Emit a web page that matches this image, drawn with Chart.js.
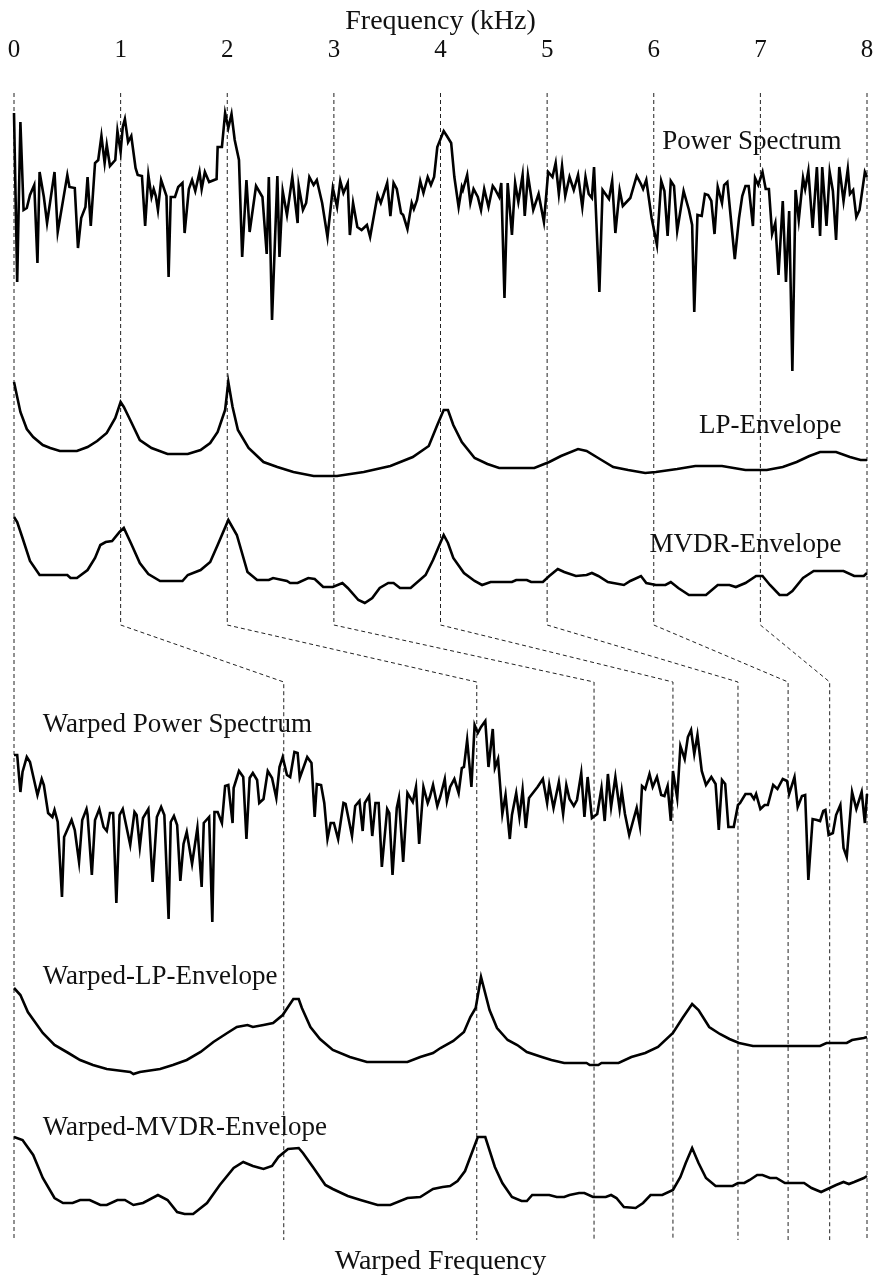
<!DOCTYPE html>
<html>
<head>
<meta charset="utf-8">
<title>Warped spectra</title>
<script src="https://cdn.jsdelivr.net/npm/chart.js@4.4.1/dist/chart.umd.min.js"></script>
<style>
  html, body { margin: 0; padding: 0; background: #fff; }
  canvas { display: block; }
</style>
</head>
<body>
<canvas id="spectra" width="873" height="1286"></canvas>
<script>
// frequency axis (kHz)
const freqTicks = [0, 1, 2, 3, 4, 5, 6, 7, 8];
// where each kHz mark lands after warping
const warpedTicks = [0, 2.53, 4.34, 5.44, 6.18, 6.79, 7.26, 7.65, 8];

// level of each trace relative to its own peak, [kHz, level]
const powerSpectrum = [[0.00,0],[0.03,-169],[0.06,-9],[0.09,-97],[0.12,-95],[0.15,-82],[0.19,-72],[0.22,-150],[0.24,-59],[0.28,-84],[0.31,-110],[0.38,-59],[0.41,-119],[0.50,-62],[0.52,-74],[0.57,-75],[0.60,-135],[0.63,-105],[0.67,-94],[0.69,-64],[0.72,-113],[0.76,-50],[0.79,-47],[0.82,-23],[0.85,-50],[0.87,-32],[0.90,-53],[0.95,-47],[0.97,-18],[1.00,-39],[1.02,-14],[1.04,-6],[1.07,-29],[1.10,-23],[1.14,-55],[1.16,-62],[1.20,-63],[1.23,-113],[1.26,-62],[1.29,-84],[1.31,-76],[1.33,-83],[1.35,-97],[1.38,-67],[1.43,-83],[1.45,-164],[1.47,-84],[1.51,-84],[1.54,-74],[1.58,-70],[1.60,-120],[1.64,-76],[1.67,-67],[1.70,-78],[1.74,-59],[1.76,-76],[1.79,-59],[1.83,-69],[1.90,-66],[1.91,-34],[1.95,-34],[1.98,0],[2.01,-15],[2.04,-1],[2.07,-27],[2.11,-47],[2.14,-144],[2.18,-67],[2.21,-119],[2.27,-73],[2.33,-84],[2.37,-141],[2.39,-64],[2.42,-207],[2.47,-63],[2.49,-144],[2.52,-78],[2.56,-102],[2.61,-64],[2.66,-110],[2.67,-73],[2.71,-97],[2.74,-90],[2.77,-64],[2.81,-72],[2.84,-67],[2.89,-90],[2.94,-124],[2.99,-75],[3.03,-94],[3.06,-68],[3.09,-80],[3.13,-70],[3.15,-122],[3.18,-90],[3.22,-114],[3.26,-117],[3.31,-112],[3.34,-124],[3.41,-82],[3.44,-90],[3.50,-70],[3.53,-103],[3.56,-70],[3.59,-76],[3.63,-100],[3.65,-102],[3.69,-116],[3.73,-90],[3.75,-96],[3.78,-87],[3.81,-68],[3.84,-80],[3.88,-64],[3.91,-72],[3.94,-64],[3.97,-34],[4.03,-18],[4.06,-23],[4.10,-30],[4.13,-64],[4.17,-94],[4.20,-74],[4.21,-77],[4.25,-62],[4.28,-90],[4.31,-76],[4.35,-84],[4.38,-97],[4.41,-76],[4.45,-94],[4.49,-73],[4.51,-76],[4.55,-84],[4.57,-70],[4.60,-185],[4.63,-70],[4.67,-122],[4.70,-70],[4.73,-89],[4.77,-62],[4.79,-103],[4.82,-62],[4.87,-97],[4.92,-81],[4.97,-109],[5.01,-59],[5.05,-64],[5.08,-50],[5.11,-81],[5.14,-53],[5.17,-83],[5.21,-64],[5.25,-77],[5.29,-62],[5.33,-94],[5.36,-64],[5.39,-81],[5.42,-85],[5.44,-54],[5.49,-179],[5.52,-77],[5.58,-86],[5.61,-68],[5.64,-120],[5.68,-77],[5.71,-93],[5.78,-85],[5.84,-63],[5.88,-71],[5.90,-76],[5.93,-67],[5.98,-105],[6.03,-132],[6.07,-68],[6.10,-78],[6.13,-123],[6.16,-68],[6.19,-73],[6.22,-118],[6.28,-78],[6.33,-97],[6.36,-112],[6.38,-199],[6.41,-102],[6.45,-103],[6.48,-81],[6.51,-82],[6.54,-88],[6.57,-121],[6.60,-74],[6.64,-90],[6.66,-72],[6.69,-69],[6.76,-146],[6.80,-105],[6.83,-83],[6.86,-73],[6.89,-73],[6.93,-113],[6.95,-65],[6.98,-72],[7.02,-59],[7.05,-76],[7.08,-76],[7.11,-121],[7.14,-110],[7.17,-162],[7.21,-88],[7.24,-169],[7.27,-98],[7.30,-258],[7.33,-77],[7.36,-107],[7.40,-65],[7.42,-76],[7.45,-58],[7.49,-115],[7.53,-54],[7.56,-123],[7.58,-54],[7.62,-113],[7.65,-59],[7.68,-78],[7.71,-127],[7.74,-54],[7.78,-88],[7.82,-56],[7.84,-81],[7.87,-77],[7.90,-104],[7.93,-97],[7.98,-59],[8.00,-64]];

const lpEnvelope = [[0.00,0],[0.03,-15],[0.06,-30],[0.12,-47],[0.18,-55],[0.27,-63],[0.34,-66],[0.43,-69],[0.59,-69],[0.69,-65],[0.78,-59],[0.87,-51],[0.95,-36],[1.00,-20],[1.03,-25],[1.09,-38],[1.18,-58],[1.29,-66],[1.44,-72],[1.63,-72],[1.75,-68],[1.84,-61],[1.91,-50],[1.98,-28],[2.01,0],[2.05,-25],[2.10,-48],[2.20,-66],[2.34,-80],[2.47,-85],[2.62,-90],[2.81,-94],[3.03,-94],[3.28,-90],[3.53,-84],[3.74,-75],[3.89,-64],[3.97,-43],[4.03,-28],[4.07,-28],[4.12,-43],[4.20,-60],[4.32,-76],[4.44,-82],[4.55,-86],[4.88,-86],[5.02,-80],[5.13,-74],[5.29,-67],[5.37,-69],[5.51,-78],[5.62,-85],[5.76,-88],[5.92,-91],[6.02,-90],[6.22,-87],[6.39,-84],[6.64,-84],[6.86,-88],[7.06,-88],[7.21,-85],[7.34,-80],[7.46,-74],[7.56,-70],[7.71,-70],[7.84,-75],[7.94,-78],[8.00,-78]];

const mvdrEnvelope = [[0.00,0],[0.03,-5],[0.08,-21],[0.15,-44],[0.24,-58],[0.50,-58],[0.53,-61],[0.59,-61],[0.69,-53],[0.76,-41],[0.81,-28],[0.86,-25],[0.92,-24],[0.99,-15],[1.03,-11],[1.10,-27],[1.18,-46],[1.26,-57],[1.37,-64],[1.58,-64],[1.63,-58],[1.75,-53],[1.84,-45],[1.91,-28],[2.01,-3],[2.09,-18],[2.19,-55],[2.28,-63],[2.39,-63],[2.43,-61],[2.56,-64],[2.59,-66],[2.66,-66],[2.76,-61],[2.82,-62],[2.90,-70],[2.99,-70],[3.08,-66],[3.13,-71],[3.23,-83],[3.29,-86],[3.36,-81],[3.43,-71],[3.51,-66],[3.56,-66],[3.62,-71],[3.72,-71],[3.86,-58],[3.93,-43],[4.03,-18],[4.07,-26],[4.12,-41],[4.22,-56],[4.32,-64],[4.39,-68],[4.47,-65],[4.67,-65],[4.71,-63],[4.81,-63],[4.85,-65],[4.96,-65],[5.02,-59],[5.10,-52],[5.16,-55],[5.27,-59],[5.37,-58],[5.42,-56],[5.48,-59],[5.57,-65],[5.72,-68],[5.78,-64],[5.88,-59],[5.93,-66],[6.02,-68],[6.11,-68],[6.16,-65],[6.23,-71],[6.33,-78],[6.49,-78],[6.60,-68],[6.71,-68],[6.77,-70],[6.86,-66],[6.96,-59],[7.02,-59],[7.09,-68],[7.18,-78],[7.25,-78],[7.30,-74],[7.40,-61],[7.50,-54],[7.78,-54],[7.88,-59],[7.97,-59],[8.00,-56]];

const warpedPowerSpectrum = [[0.00,-34],[0.03,-34],[0.06,-71],[0.08,-51],[0.12,-36],[0.15,-41],[0.22,-74],[0.26,-58],[0.28,-64],[0.32,-92],[0.36,-96],[0.38,-89],[0.41,-101],[0.45,-176],[0.47,-116],[0.54,-99],[0.57,-109],[0.61,-141],[0.64,-99],[0.68,-88],[0.69,-94],[0.73,-154],[0.76,-99],[0.80,-88],[0.84,-106],[0.87,-110],[0.90,-92],[0.93,-92],[0.96,-182],[0.99,-94],[1.02,-88],[1.09,-124],[1.13,-91],[1.15,-94],[1.18,-126],[1.21,-97],[1.26,-88],[1.30,-161],[1.34,-96],[1.38,-86],[1.41,-94],[1.45,-198],[1.47,-101],[1.50,-95],[1.53,-104],[1.56,-160],[1.59,-123],[1.62,-111],[1.67,-143],[1.72,-107],[1.76,-166],[1.78,-102],[1.83,-96],[1.86,-201],[1.88,-91],[1.91,-91],[1.95,-102],[1.98,-65],[2.01,-64],[2.05,-102],[2.06,-67],[2.11,-50],[2.15,-56],[2.18,-118],[2.21,-57],[2.24,-52],[2.28,-59],[2.30,-82],[2.34,-78],[2.38,-50],[2.42,-57],[2.46,-77],[2.49,-46],[2.52,-36],[2.56,-54],[2.59,-56],[2.63,-31],[2.66,-32],[2.68,-57],[2.75,-36],[2.79,-42],[2.82,-96],[2.84,-63],[2.88,-64],[2.91,-82],[2.94,-118],[2.97,-102],[3.00,-102],[3.04,-118],[3.09,-82],[3.11,-83],[3.17,-115],[3.20,-85],[3.24,-80],[3.27,-110],[3.29,-82],[3.33,-75],[3.36,-115],[3.39,-82],[3.42,-82],[3.45,-146],[3.50,-88],[3.52,-92],[3.55,-154],[3.59,-87],[3.61,-77],[3.65,-141],[3.69,-72],[3.74,-81],[3.77,-66],[3.80,-123],[3.84,-66],[3.88,-82],[3.90,-76],[3.93,-64],[3.97,-85],[4.00,-75],[4.04,-58],[4.06,-80],[4.09,-66],[4.13,-58],[4.17,-72],[4.20,-47],[4.22,-46],[4.25,-19],[4.29,-66],[4.32,-4],[4.35,-12],[4.38,-6],[4.42,0],[4.45,-46],[4.49,-8],[4.51,-47],[4.54,-38],[4.58,-93],[4.61,-74],[4.65,-118],[4.67,-94],[4.71,-72],[4.74,-96],[4.77,-69],[4.80,-107],[4.83,-77],[4.91,-66],[4.96,-58],[5.00,-82],[5.02,-64],[5.06,-87],[5.11,-61],[5.15,-93],[5.18,-64],[5.21,-78],[5.25,-85],[5.28,-79],[5.32,-52],[5.35,-96],[5.38,-56],[5.42,-97],[5.47,-93],[5.51,-67],[5.54,-100],[5.57,-53],[5.60,-86],[5.64,-56],[5.68,-88],[5.70,-70],[5.73,-93],[5.77,-114],[5.84,-87],[5.87,-105],[5.89,-65],[5.92,-68],[5.96,-53],[5.99,-66],[6.03,-56],[6.07,-74],[6.10,-75],[6.13,-65],[6.16,-100],[6.18,-50],[6.22,-77],[6.25,-25],[6.29,-38],[6.32,-16],[6.35,-9],[6.38,-33],[6.41,-14],[6.45,-50],[6.49,-64],[6.54,-56],[6.58,-63],[6.61,-109],[6.64,-59],[6.67,-63],[6.70,-106],[6.75,-106],[6.79,-84],[6.81,-82],[6.86,-73],[6.91,-73],[6.94,-78],[6.96,-73],[7.00,-88],[7.04,-84],[7.07,-84],[7.12,-64],[7.16,-68],[7.21,-58],[7.25,-60],[7.27,-73],[7.32,-56],[7.35,-86],[7.39,-75],[7.42,-74],[7.45,-159],[7.49,-98],[7.53,-99],[7.56,-100],[7.59,-90],[7.61,-89],[7.64,-114],[7.68,-112],[7.71,-94],[7.75,-84],[7.78,-127],[7.81,-136],[7.86,-71],[7.90,-88],[7.95,-71],[7.98,-102],[8.00,-73]];

const warpedLpEnvelope = [[0.00,-11],[0.06,-18],[0.13,-35],[0.27,-56],[0.38,-68],[0.51,-76],[0.62,-83],[0.74,-88],[0.87,-92],[1.09,-95],[1.12,-97],[1.18,-95],[1.37,-92],[1.49,-88],[1.62,-83],[1.75,-75],[1.87,-65],[2.00,-56],[2.09,-50],[2.19,-48],[2.24,-50],[2.34,-48],[2.43,-46],[2.52,-38],[2.57,-30],[2.62,-22],[2.67,-22],[2.70,-31],[2.78,-50],[2.87,-62],[2.99,-73],[3.15,-80],[3.31,-85],[3.69,-85],[3.81,-80],[3.93,-76],[4.00,-71],[4.12,-64],[4.22,-55],[4.28,-40],[4.33,-31],[4.38,0],[4.46,-33],[4.53,-51],[4.63,-63],[4.72,-68],[4.81,-75],[4.95,-80],[5.04,-83],[5.16,-86],[5.37,-86],[5.40,-88],[5.48,-88],[5.51,-86],[5.67,-86],[5.79,-80],[5.92,-76],[6.04,-70],[6.18,-56],[6.27,-41],[6.36,-27],[6.42,-33],[6.52,-50],[6.62,-57],[6.71,-62],[6.80,-66],[6.93,-69],[7.56,-69],[7.62,-66],[7.81,-66],[7.86,-63],[7.97,-61],[8.00,-60]];

const warpedMvdrEnvelope = [[0.00,0],[0.08,-3],[0.18,-18],[0.27,-41],[0.38,-61],[0.46,-66],[0.55,-66],[0.62,-63],[0.71,-63],[0.81,-68],[0.87,-68],[0.97,-63],[1.04,-63],[1.12,-68],[1.21,-66],[1.35,-58],[1.44,-63],[1.53,-75],[1.60,-77],[1.68,-77],[1.81,-66],[1.93,-48],[2.06,-31],[2.15,-25],[2.24,-29],[2.34,-32],[2.42,-29],[2.48,-20],[2.57,-12],[2.67,-11],[2.71,-16],[2.81,-31],[2.92,-48],[2.99,-52],[3.13,-59],[3.25,-63],[3.41,-68],[3.53,-68],[3.69,-61],[3.81,-60],[3.93,-52],[4.02,-50],[4.09,-49],[4.16,-44],[4.23,-34],[4.35,0],[4.42,0],[4.51,-30],[4.58,-46],[4.67,-60],[4.76,-64],[4.81,-64],[4.86,-58],[5.02,-58],[5.09,-60],[5.16,-60],[5.21,-58],[5.30,-56],[5.35,-56],[5.43,-60],[5.55,-60],[5.60,-58],[5.65,-61],[5.72,-70],[5.83,-71],[5.90,-66],[5.97,-58],[6.08,-58],[6.18,-53],[6.25,-40],[6.30,-26],[6.36,-11],[6.42,-26],[6.49,-41],[6.58,-49],[6.74,-49],[6.79,-46],[6.85,-46],[6.90,-43],[6.97,-38],[7.02,-38],[7.09,-41],[7.15,-41],[7.23,-46],[7.41,-46],[7.48,-51],[7.57,-55],[7.65,-51],[7.71,-48],[7.78,-45],[7.83,-47],[7.88,-45],[7.97,-41],[8.00,-39]];

// vertical placement of each trace's peak on the stacked panel
const traceNames = ['Power Spectrum', 'LP-Envelope', 'MVDR-Envelope', 'Warped Power Spectrum', 'Warped-LP-Envelope', 'Warped-MVDR-Envelope'];
const traceSeries = [powerSpectrum, lpEnvelope, mvdrEnvelope, warpedPowerSpectrum, warpedLpEnvelope, warpedMvdrEnvelope];
const traceOffsets = [1127, 858, 723, 519, 263, 103];
// label anchors: kHz, panel level, alignment
const labelFreqs = [7.76, 7.76, 7.76, 0.27, 0.27, 0.27];
const labelLevels = [1098, 814, 695, 515, 263, 112];
const labelAligns = ['right', 'right', 'right', 'left', 'left', 'left'];

// the dashed guides: straight from top, bend, then straight to the bottom
const panelTop = 1147;
const guideBendTop = 615;
const guideBendBottom = 558;

const serif = '"Liberation Serif", "Times New Roman", serif';

const traceDatasets = traceSeries.map((series, i) => ({
  label: traceNames[i],
  data: series.map(p => ({ x: p[0], y: traceOffsets[i] + p[1] })),
  borderColor: '#000',
  borderWidth: 2.6,
  pointRadius: 0,
  tension: 0,
  clip: false,
  order: 0
}));

const guideDatasets = freqTicks.map((f, i) => ({
  label: 'guide ' + f,
  data: [
    { x: f, y: panelTop },
    { x: f, y: guideBendTop },
    { x: warpedTicks[i], y: guideBendBottom },
    { x: warpedTicks[i], y: 0 }
  ],
  borderColor: '#222',
  borderWidth: 1,
  borderDash: [4, 3],
  pointRadius: 0,
  clip: false,
  order: 1
}));

const labelPlugin = {
  id: 'traceLabels',
  afterDatasetsDraw(chart) {
    const { ctx, scales } = chart;
    ctx.save();
    ctx.font = '27px ' + serif;
    ctx.fillStyle = '#111';
    ctx.textBaseline = 'middle';
    traceNames.forEach((name, i) => {
      ctx.textAlign = labelAligns[i];
      ctx.fillText(name, scales.x.getPixelForValue(labelFreqs[i]), scales.y.getPixelForValue(labelLevels[i]));
    });
    ctx.restore();
  }
};

new Chart(document.getElementById('spectra'), {
  type: 'line',
  data: { datasets: [...traceDatasets, ...guideDatasets] },
  plugins: [labelPlugin],
  options: {
    responsive: false,
    animation: false,
    events: [],
    layout: { padding: { left: 14, right: 6 } },
    plugins: {
      legend: { display: false },
      tooltip: { enabled: false }
    },
    scales: {
      x: {
        type: 'linear',
        position: 'top',
        min: 0,
        max: 8,
        afterBuildTicks: axis => { axis.ticks = freqTicks.map(v => ({ value: v })); },
        ticks: { color: '#111', font: { family: serif, size: 25 }, padding: 0, maxRotation: 0 },
        grid: { display: false, drawTicks: true, tickLength: 28 },
        border: { display: false },
        title: { display: true, text: 'Frequency (kHz)', color: '#111', font: { family: serif, size: 28 }, padding: { top: 5, bottom: 0 } },
        afterFit: axis => { axis.height = 93; axis.paddingLeft = 0; axis.paddingRight = 0; }
      },
      xb: {
        type: 'linear',
        position: 'bottom',
        min: 0,
        max: 8,
        ticks: { display: false, padding: 0 },
        grid: { display: false, drawTicks: false },
        border: { display: false },
        title: { display: true, text: 'Warped Frequency', color: '#111', font: { family: serif, size: 28 }, padding: { top: 0, bottom: 8 } },
        afterFit: axis => { axis.height = 46; axis.paddingLeft = 0; axis.paddingRight = 0; }
      },
      y: { display: false, min: 0, max: 1147 }
    }
  }
});
</script>
</body>
</html>
